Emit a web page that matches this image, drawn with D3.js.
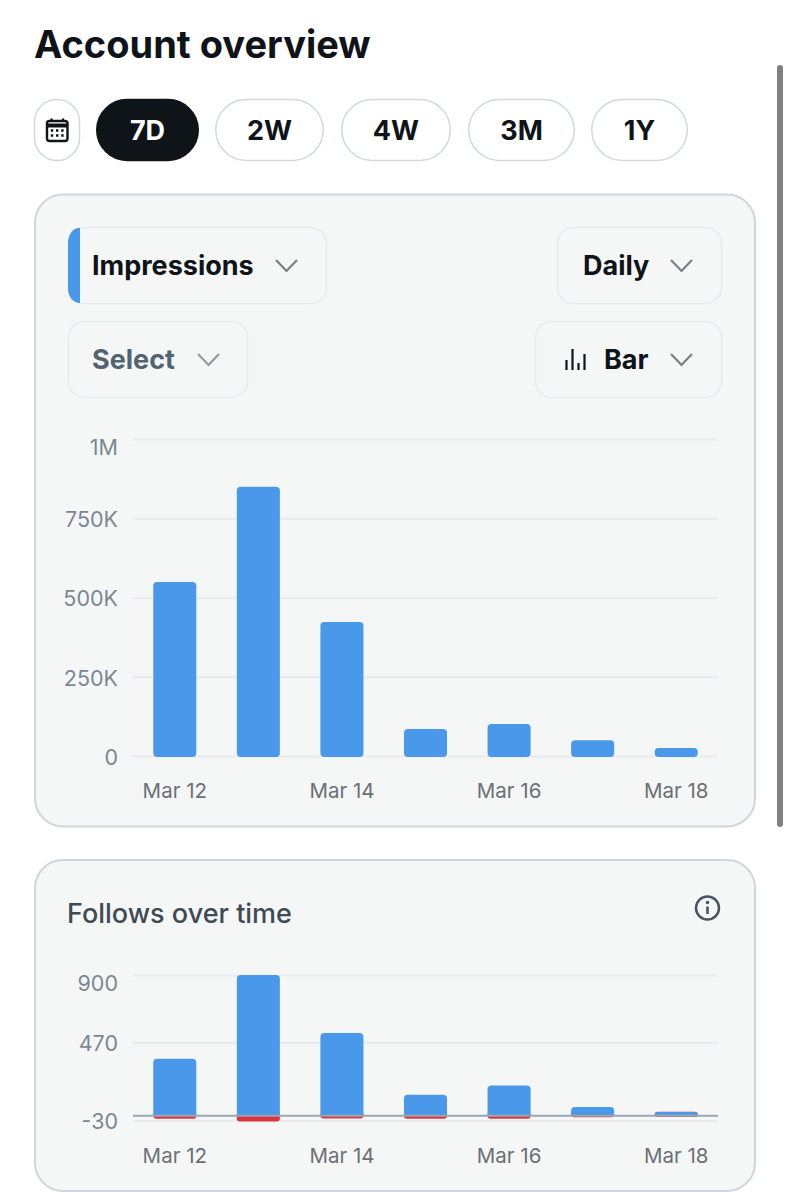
<!DOCTYPE html>
<html>
<head>
<meta charset="utf-8">
<script src="https://cdn.jsdelivr.net/npm/d3@7"></script>
<style>
  html, body { margin: 0; padding: 0; background: #fff; }
  svg { display: block; }
  text { font-family: Inter, "Noto Sans", sans-serif; }
</style>
</head>
<body>
<svg id="page" width="789" height="1200"></svg>
<script>
const days = ["Mar 12", "Mar 13", "Mar 14", "Mar 15", "Mar 16", "Mar 17", "Mar 18"];
const dayLabels = ["Mar 12", "Mar 14", "Mar 16", "Mar 18"];

const impressions = [549000, 849000, 423000, 85000, 101000, 50000, 25000];
const impressionTicks = [0, 250000, 500000, 750000, 1000000];
const impressionTickLabels = ["0", "250K", "500K", "750K", "1M"];

const follows = [364, 900, 530, 134, 194, 57, 25];
const unfollows = [-19, -36, -17, -19, -19, -10, -8];
const followTicks = [-30, 470, 900];

const ranges = ["7D", "2W", "4W", "3M", "1Y"];

const BLUE = "#4a98e9";
const RED = "#e0343c";
const CARD = "#f5f7f7";
const svg = d3.select("#page");

// scrollbar
svg.append("rect").attr("x", 777).attr("y", 65).attr("width", 6).attr("height", 762).attr("rx", 3).attr("fill", "#808080");

svg.append("text").attr("x", 34).attr("y", 58).attr("font-size", 38).attr("font-weight", 700)
  .attr("fill", "#0f1419").text("Account overview");

// range pills
const pillX = [96, 215, 341, 468, 591];
const pillW = [103, 109, 110, 107, 97];
svg.append("rect").attr("x", 34.5).attr("y", 99.5).attr("width", 45).attr("height", 61).attr("rx", 22.5)
  .attr("fill", "#fff").attr("stroke", "#d3d8dc").attr("stroke-width", 1.5);
const cal = svg.append("g").attr("fill", "none").attr("stroke", "#0f1419");
cal.append("rect").attr("x", 47).attr("y", 121).attr("width", 20.5).attr("height", 20).attr("rx", 2.5).attr("stroke-width", 2.4);
cal.append("path").attr("d", "M47 125.5H67.5").attr("stroke-width", 4);
cal.append("path").attr("d", "M51.5 118.5V122M63 118.5V122").attr("stroke-width", 2.2);
cal.append("path").attr("d", "M50.8 130.5h2.4M56 130.5h2.4M61.2 130.5h2.4M50.8 135.5h2.4M56 135.5h2.4M61.2 135.5h2.4").attr("stroke-width", 2.4);

ranges.forEach((r, i) => {
  const on = i === 0;
  svg.append("rect").attr("x", pillX[i] + 0.75).attr("y", 99.5).attr("width", pillW[i] - 1.5).attr("height", 61).attr("rx", 30.5)
    .attr("fill", on ? "#0f1419" : "#fff").attr("stroke", on ? "#0f1419" : "#d3d8dc").attr("stroke-width", 1.5);
  svg.append("text").attr("x", pillX[i] + pillW[i] / 2).attr("y", 140).attr("text-anchor", "middle")
    .attr("font-size", 27).attr("font-weight", 700).attr("fill", on ? "#fff" : "#0f1419").text(r);
});

function card(y, h) {
  svg.append("rect").attr("x", 35).attr("y", y).attr("width", 720).attr("height", h).attr("rx", 28)
    .attr("fill", CARD).attr("stroke", "#d0d6db").attr("stroke-width", 2);
}
card(194.5, 632);
card(860, 331);

function chevron(x, y, color) {
  svg.append("path").attr("d", `M${x} ${y}l10.5 11l10.5 -11`).attr("fill", "none")
    .attr("stroke", color).attr("stroke-width", 2.2);
}

// dropdowns
const dd = [
  { x: 68, y: 227, w: 259, label: "Impressions", tx: 92, cx: 276, color: "#0f1419", chev: "#7b7f83" },
  { x: 557, y: 227, w: 165, label: "Daily", tx: 583, cx: 671, color: "#0f1419", chev: "#7b7f83" },
  { x: 68, y: 321, w: 180, label: "Select", tx: 92, cx: 198, color: "#536471", chev: "#93999e" },
  { x: 535, y: 321, w: 187, label: "Bar", tx: 604, cx: 671, color: "#0f1419", chev: "#7b7f83" },
];
dd.forEach((d) => {
  svg.append("rect").attr("x", d.x + 0.5).attr("y", d.y + 0.5).attr("width", d.w - 1).attr("height", 76).attr("rx", 16)
    .attr("fill", CARD).attr("stroke", "#e6eaed").attr("stroke-width", 1.5);
  svg.append("text").attr("x", d.tx).attr("y", d.y + 48).attr("font-size", 27).attr("font-weight", 700)
    .attr("fill", d.color).text(d.label);
  chevron(d.cx, d.y + 33, d.chev);
});
// blue key on the Impressions dropdown
svg.append("path").attr("d", "M80 228H79a11 15 0 0 0 -11 15V288a11 15 0 0 0 11 15H80Z").attr("fill", BLUE);
// bar type icon
svg.append("path").attr("d", "M566.5 360V370M572.5 349V370M578.5 363V370M584.5 354V370").attr("stroke", "#0f1419").attr("stroke-width", 2.2).attr("fill", "none");

svg.append("text").attr("x", 67).attr("y", 923).attr("font-size", 27).attr("font-weight", 500).attr("fill", "#3f4a54").text("Follows over time");
const info = svg.append("g").attr("fill", "none").attr("stroke", "#4b5560");
info.append("circle").attr("cx", 707.5).attr("cy", 908).attr("r", 11.5).attr("stroke-width", 2.5);
info.append("path").attr("d", "M707.5 906.5V914").attr("stroke-width", 2.6);
svg.append("circle").attr("cx", 707.5).attr("cy", 902.5).attr("r", 1.7).attr("fill", "#4b5560");

function drawAxes(chart, x, y, ticks, format, axisY) {
  const grid = d3.axisLeft(y).tickValues(ticks).tickSize(-585).tickFormat(format).tickPadding(15);
  const gy = chart.append("g").attr("transform", "translate(133,0)").call(grid);
  gy.select(".domain").remove();
  gy.selectAll("line").attr("stroke", "#e7ebee").attr("stroke-width", 2);
  gy.selectAll("text").attr("font-size", 21.5).attr("fill", "#7b8894").attr("font-family", "Inter")
    .attr("transform", "translate(0,1.5)");

  const xAxis = d3.axisBottom(x).tickValues(dayLabels).tickSize(0).tickPadding(27);
  const gx = chart.append("g").attr("transform", `translate(0,${axisY})`).call(xAxis);
  gx.select(".domain").remove();
  gx.selectAll("text").attr("font-size", 20.5).attr("fill", "#6a7075").attr("font-family", "Inter");
  return gy;
}

const x = d3.scaleBand().domain(days).range([133, 718]).paddingInner(0.485).paddingOuter(0.2425);

// Impressions chart
const y1 = d3.scaleLinear().domain([0, 1000000]).range([756, 439]);
const chart1 = svg.append("g");
const gy1 = drawAxes(chart1, x, y1, impressionTicks, (d) => impressionTickLabels[impressionTicks.indexOf(d)], 756);
gy1.selectAll("text").filter((d) => d === 1000000).attr("dy", "0.65em");
chart1.append("g").selectAll("rect").data(impressions).join("rect")
  .attr("x", (d, i) => x(days[i]))
  .attr("y", (d) => y1(d))
  .attr("width", x.bandwidth())
  .attr("height", (d) => y1(0) - y1(d) + 1)
  .attr("rx", 4)
  .attr("fill", BLUE);

// Follows chart
const y2 = d3.scaleLinear().domain([-30, 900]).range([1120.5, 975]);
const chart2 = svg.append("g");
const gy2 = drawAxes(chart2, x, y2, followTicks, (d) => d, 1121);
gy2.selectAll("text").filter((d) => d === 900).attr("dy", "0.65em");
chart2.append("g").selectAll("rect").data(unfollows).join("rect")
  .attr("x", (d, i) => x(days[i]))
  .attr("y", y2(0) - 4)
  .attr("width", x.bandwidth())
  .attr("height", (d) => y2(d) - y2(0) + 4)
  .attr("rx", 3)
  .attr("fill", RED);
chart2.append("g").selectAll("path").data(follows).join("path")
  .attr("d", (d, i) => {
    const x0 = x(days[i]), w = x.bandwidth(), top = y2(d), base = y2(0), r = Math.min(4, base - top);
    return `M${x0} ${base}V${top + r}Q${x0} ${top} ${x0 + r} ${top}H${x0 + w - r}Q${x0 + w} ${top} ${x0 + w} ${top + r}V${base}Z`;
  })
  .attr("fill", BLUE);
// zero line sits over the bars
chart2.append("line").attr("x1", 133).attr("x2", 718).attr("y1", y2(0)).attr("y2", y2(0))
  .attr("stroke", "#9aa6b2").attr("stroke-width", 2);
</script>
</body>
</html>
